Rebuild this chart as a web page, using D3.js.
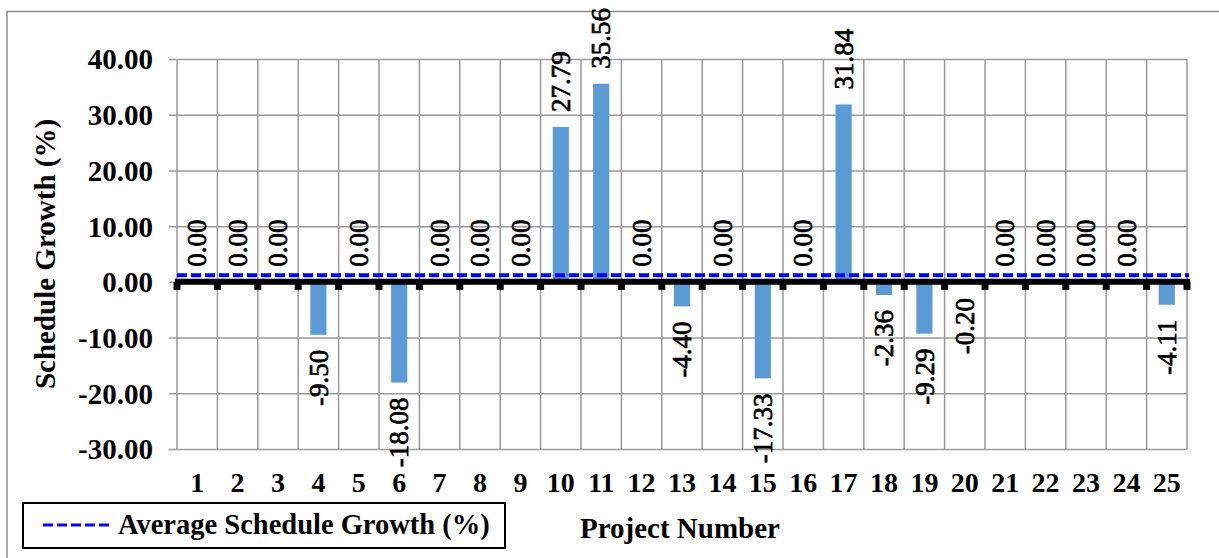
<!DOCTYPE html>
<html>
<head>
<meta charset="utf-8">
<script src="https://cdn.jsdelivr.net/npm/d3@7"></script>
<style>
  body { margin: 0; background: #fff; }
  svg { display: block; }
  text { font-family: "Liberation Serif", "Times New Roman", serif; fill: #000; }
</style>
</head>
<body>
<script>
// schedule growth per project

var projects = ["1","2","3","4","5","6","7","8","9","10","11","12","13","14","15","16","17","18","19","20","21","22","23","24","25"];
var growth = [0.00, 0.00, 0.00, -9.50, 0.00, -18.08, 0.00, 0.00, 0.00, 27.79, 35.56, 0.00, -4.40, 0.00, -17.33, 0.00, 31.84, -2.36, -9.29, -0.20, 0.00, 0.00, 0.00, 0.00, -4.11];
var avgGrowth = 1.20;
var yTicks = [-30, -20, -10, 0, 10, 20, 30, 40];

var W = 1219, H = 558;
var plotL = 177, plotR = 1187, plotT = 59, plotB = 449;
var fmt = function (d) { return d.toFixed(2); };   // plain hyphen minus, like the original

var svg = d3.select("body").append("svg").attr("width", W).attr("height", H);

// outer frame (runs off right / bottom like the original)
svg.append("rect")
      .attr("x", 7).attr("y", 11.5)
      .attr("width", W + 10).attr("height", H + 10)
      .attr("fill", "none").attr("stroke", "#8c8c8c").attr("stroke-width", 1.5);

var x = d3.scaleBand().domain(projects).range([plotL, plotR]).paddingInner(0.6).paddingOuter(0.3);
var y = d3.scaleLinear().domain([-30, 40]).range([plotB, plotT]);

// category boundaries
var bounds = projects.map(function (d) { return x(d) - x.step() * 0.3; });
bounds.push(plotR);

// horizontal gridlines + y ticks
var yAxis = d3.axisLeft(y).tickValues(yTicks).tickSize(0).tickFormat(fmt);
var gy = svg.append("g").attr("transform", "translate(" + plotL + ",0)").call(yAxis);
gy.select(".domain").remove();
gy.selectAll(".tick line").attr("stroke", "#9a9a9a").attr("stroke-width", 1.5)
      .attr("x1", -8).attr("x2", plotR - plotL);
gy.selectAll(".tick text")
      .attr("x", -24)
      .attr("dy", "0.34em")
      .attr("fill", "#000")
      .style("font-family", "Liberation Serif")
      .style("font-size", "29px").style("font-weight", "bold");

// vertical gridlines
svg.append("g").selectAll("line.vg")
      .data(bounds)
      .enter().append("line")
      .attr("class", "vg")
      .attr("x1", function (d) { return d; }).attr("x2", function (d) { return d; })
      .attr("y1", plotT).attr("y2", plotB)
      .attr("stroke", "#9a9a9a").attr("stroke-width", 1.5);

// bars
svg.append("g").selectAll("rect.bar")
      .data(growth)
      .enter().append("rect")
      .attr("class", "bar")
      .attr("fill", "#5b9bd5")
      .attr("x", function (d, i) { return x(projects[i]); })
      .attr("width", x.bandwidth())
      .attr("y", function (d) { return y(Math.max(d, 0)); })
      .attr("height", function (d) { return Math.abs(y(d) - y(0)); });

// thick zero axis with tick squares
svg.append("line")
      .attr("x1", plotL - 2).attr("x2", plotR + 3)
      .attr("y1", y(0)).attr("y2", y(0))
      .attr("stroke", "#000").attr("stroke-width", 6);
svg.append("g").selectAll("line.zt")
      .data(bounds)
      .enter().append("line")
      .attr("class", "zt")
      .attr("x1", function (d) { return d; }).attr("x2", function (d) { return d; })
      .attr("y1", y(0)).attr("y2", y(0) + 8)
      .attr("stroke", "#000").attr("stroke-width", 7);

// average line
svg.append("line")
      .attr("x1", plotL).attr("x2", plotR + 2)
      .attr("y1", y(avgGrowth)).attr("y2", y(avgGrowth))
      .attr("stroke", "#0000ff").attr("stroke-width", 4)
      .attr("stroke-dasharray", "10,4");

// data labels
svg.append("g").selectAll("text.lbl")
      .data(growth)
      .enter().append("text")
      .attr("class", "lbl")
      .attr("transform", function (d, i) {
            var cx = x(projects[i]) + x.bandwidth() / 2;
            var cy = d >= 0 ? y(d) - 15 : y(d) + 15;
            return "translate(" + cx + "," + cy + ") rotate(-90)";
      })
      .attr("text-anchor", function (d) { return d >= 0 ? "start" : "end"; })
      .attr("dy", "0.34em")
      .style("font-family", "Liberation Serif")
      .style("font-size", "27px")
      .style("stroke", "#000").style("stroke-width", 0.7)
      .text(fmt);

// x category labels
svg.append("g").selectAll("text.cat")
      .data(projects)
      .enter().append("text")
      .attr("class", "cat")
      .attr("x", function (d) { return x(d) + x.bandwidth() / 2; })
      .attr("y", 492)
      .attr("text-anchor", "middle")
      .style("font-size", "28px").style("font-weight", "bold")
      .text(function (d) { return d; });

// axis titles
svg.append("text")
      .attr("transform", "translate(55,254) rotate(-90)")
      .attr("text-anchor", "middle")
      .style("font-size", "29px").style("font-weight", "bold")
      .text("Schedule Growth (%)");

svg.append("text")
      .attr("x", 680).attr("y", 538)
      .attr("text-anchor", "middle")
      .style("font-size", "29px").style("font-weight", "bold")
      .text("Project Number");

// legend
var lg = svg.append("g");
lg.append("rect")
      .attr("x", 23).attr("y", 503).attr("width", 482).attr("height", 45)
      .attr("fill", "#fff").attr("stroke", "#000").attr("stroke-width", 2);
lg.append("line")
      .attr("x1", 43).attr("x2", 113).attr("y1", 525).attr("y2", 525)
      .attr("stroke", "#0000ff").attr("stroke-width", 3)
      .attr("stroke-dasharray", "10,4");
lg.append("text")
      .attr("x", 118).attr("y", 534)
      .style("font-size", "28.5px").style("font-weight", "bold")
      .text("Average Schedule Growth (%)");
</script>
</body>
</html>
